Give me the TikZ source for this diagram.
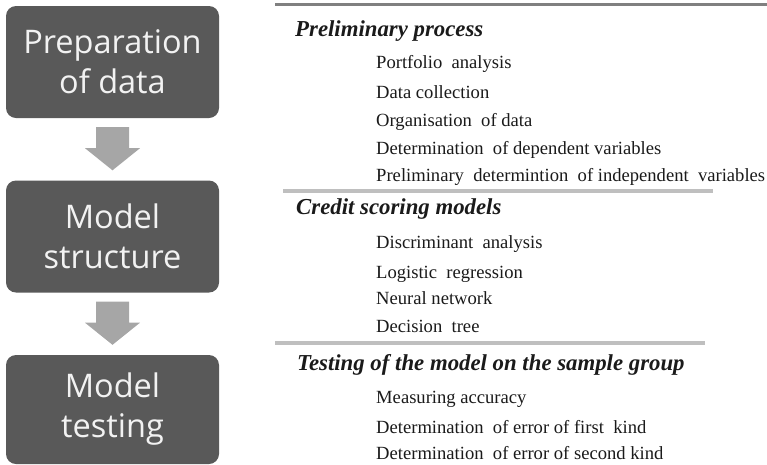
\documentclass[tikz,border=0pt]{standalone}
\usepackage{fontspec}
\setmainfont{Liberation Serif}
\newfontfamily\boxfont{Open Sans}
\usetikzlibrary{calc}
\definecolor{boxgray}{HTML}{595959}
\definecolor{arrowgray}{HTML}{A6A6A6}
\definecolor{boxtext}{HTML}{F2F2F2}
\definecolor{rulegray}{HTML}{808080}
\definecolor{rulelight}{HTML}{BFBFBF}
\definecolor{listtext}{HTML}{1A1A1A}
\begin{document}
\begin{tikzpicture}[x=1pt,y=-1pt,
  stagebox/.style={fill=boxgray, draw=none, rounded corners=10pt, minimum width=213pt,
    minimum height=112pt, text=boxtext, align=center, inner sep=0pt,
    font=\boxfont\fontsize{32.5}{40}\selectfont},
  blockarrow/.style={fill=arrowgray, draw=none},
  headtext/.style={anchor=base west, inner sep=0pt, text=listtext,
    font=\fontsize{22.8}{26}\selectfont\bfseries\itshape},
  itemtext/.style={anchor=base west, inner sep=0pt, text=listtext,
    font=\fontsize{18.6}{22}\selectfont},
  toprule/.style={draw=rulegray, line width=3pt},
  seprule/.style={draw=rulelight, line width=3.5pt}]
\useasboundingbox (0,0) rectangle (767,464);

% stage boxes
\node[stagebox] (b1) at (112.5,62) {Preparation\\of data};
\node[stagebox] (b2) at (112.5,236.5) {Model\\structure};
\node[stagebox, minimum height=109pt] (b3) at (112.5,409.5) {Model\\testing};

% block arrows between boxes
\foreach \a/\b in {b1/b2, b2/b3}{
  \fill[blockarrow] ($(\a.south)+(-16.5,9)$) -- ($(\a.south)+(16.5,9)$)
    -- ($(\a.south)+(16.5,30)$) -- ($(\a.south)+(27.5,30)$)
    -- ($(\b.north)+(0,-10)$)
    -- ($(\a.south)+(-27.5,30)$) -- ($(\a.south)+(-16.5,30)$) -- cycle;
}

% rules
\coordinate (r1a) at (275,4);   \coordinate (r1b) at (767,4);
\coordinate (r2a) at (283,191); \coordinate (r2b) at (713,191);
\coordinate (r3a) at (275,343); \coordinate (r3b) at (705,343);
\draw[toprule] (r1a) -- (r1b);
\draw[seprule] (r2a) -- (r2b);
\draw[seprule] (r3a) -- (r3b);

% section 1
\node[headtext] (h1) at (295,36) {Preliminary process};
\node[itemtext] (i11) at (376,68) {Portfolio\ \ analysis};
\node[itemtext] (i12) at (376,98) {Data collection};
\node[itemtext] (i13) at (376,126) {Organisation\ \ of data};
\node[itemtext] (i14) at (376,154) {Determination\ \ of dependent variables};
\node[itemtext] (i15) at (376,181.5) {Preliminary\ \ determintion\ \ of independent\ \ variables};

% section 2
\node[headtext] (h2) at (296,214) {Credit scoring models};
\node[itemtext] (i21) at (376,248) {Discriminant\ \ analysis};
\node[itemtext] (i22) at (376,278) {Logistic\ \ regression};
\node[itemtext] (i23) at (376,304) {Neural network};
\node[itemtext] (i24) at (376,332) {Decision\ \ tree};

% section 3
\node[headtext] (h3) at (297,370) {Testing of the model on the sample group};
\node[itemtext] (i31) at (376,403) {Measuring accuracy};
\node[itemtext] (i32) at (376,433) {Determination\ \ of error of first\ \ kind};
\node[itemtext] (i33) at (376,459) {Determination\ \ of error of second kind};
\end{tikzpicture}
\end{document}
